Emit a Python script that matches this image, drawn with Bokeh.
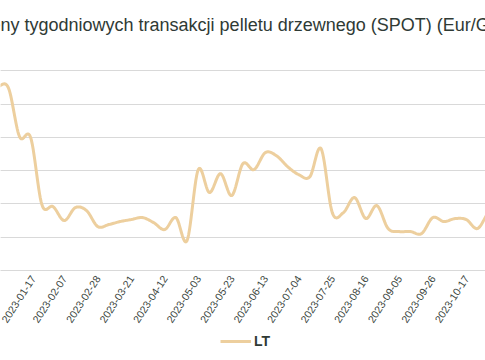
import math
import numpy as np
from bokeh.plotting import figure
from bokeh.layouts import column
from bokeh.models import Range1d, FixedTicker, Grid, Legend, LegendItem, ColumnDataSource
from bokeh.embed import file_html
from bokeh.resources import INLINE

# ---- data ----
title_text = "Ceny tygodniowych transakcji pelletu drzewnego (SPOT) (Eur/GJ)"
series_name = "LT"
dates = [
    "2022-12-20", "2022-12-27", "2023-01-03", "2023-01-10", "2023-01-17",
    "2023-01-24", "2023-01-31", "2023-02-07", "2023-02-14", "2023-02-21",
    "2023-02-28", "2023-03-07", "2023-03-14", "2023-03-21", "2023-03-28",
    "2023-04-04", "2023-04-12", "2023-04-18", "2023-04-25", "2023-05-03",
    "2023-05-09", "2023-05-16", "2023-05-23", "2023-05-30", "2023-06-06",
    "2023-06-13", "2023-06-20", "2023-06-27", "2023-07-04", "2023-07-11",
    "2023-07-18", "2023-07-25", "2023-08-01", "2023-08-08", "2023-08-16",
    "2023-08-22", "2023-08-29", "2023-09-05", "2023-09-12", "2023-09-19",
    "2023-09-26", "2023-10-03", "2023-10-10", "2023-10-17", "2023-10-24",
    "2023-10-31", "2023-11-07",
]
prices_lt = [
    32.6, 32.6, 32.45, 25.1, 24.95,
    14.9, 14.6, 12.5, 14.45, 14.0,
    11.6, 11.9, 12.35, 12.65, 12.95,
    12.2, 11.15, 12.95, 9.5, 20.15,
    16.7, 19.55, 16.25, 21.05, 20.15,
    22.7, 22.25, 20.6, 19.4, 19.1,
    23.3, 13.7, 13.7, 15.95, 12.8,
    14.75, 11.3, 10.85, 10.85, 10.55,
    12.95, 12.35, 12.8, 12.65, 11.3,
    13.7, 14.75,
]
y_grid_values = [5, 10, 15, 20, 25, 30, 35, 40]
labelled_dates = [
    "2023-01-17", "2023-02-07", "2023-02-28", "2023-03-21", "2023-04-12",
    "2023-05-03", "2023-05-23", "2023-06-13", "2023-07-04", "2023-07-25",
    "2023-08-16", "2023-09-05", "2023-09-26", "2023-10-17", "2023-11-07",
]

LINE_COLOR = "#EDCF9E"
TEXT_COLOR = "#2f3a35"

# ---- smoothing (Bezier through every data point, like a smoothed line) ----
def smooth(xs, ys, n=14):
    xs = np.asarray(xs, float)
    ys = np.asarray(ys, float)
    ox, oy = [], []
    m = len(xs)
    for i in range(m - 1):
        p0 = (xs[max(i - 1, 0)], ys[max(i - 1, 0)])
        p1 = (xs[i], ys[i])
        p2 = (xs[i + 1], ys[i + 1])
        p3 = (xs[min(i + 2, m - 1)], ys[min(i + 2, m - 1)])
        c1 = (p1[0] + (p2[0] - p0[0]) / 6, p1[1] + (p2[1] - p0[1]) / 6)
        c2 = (p2[0] - (p3[0] - p1[0]) / 6, p2[1] - (p3[1] - p1[1]) / 6)
        t = np.linspace(0, 1, n, endpoint=(i == m - 2))
        a = (1 - t) ** 3
        b = 3 * (1 - t) ** 2 * t
        c = 3 * (1 - t) * t ** 2
        d = t ** 3
        ox.extend(a * p1[0] + b * c1[0] + c * c2[0] + d * p2[0])
        oy.extend(a * p1[1] + b * c1[1] + c * c2[1] + d * p2[1])
    return ox, oy

idx = list(range(len(dates)))
sx, sy = smooth(idx, prices_lt)
src = ColumnDataSource(data=dict(x=sx, y=sy))

p = figure(
    width=485, height=330,
    output_backend="svg", toolbar_location=None,
    x_range=Range1d(1.296, 44.72), y_range=Range1d(5, 40),
    y_axis_location=None,
    min_border_left=0, min_border_right=0,
    min_border_top=37, min_border_bottom=60,
    title=title_text,
)
p.outline_line_color = None
p.background_fill_color = "white"
p.border_fill_color = "white"

p.title.text_font = "Liberation Sans"
p.title.text_font_size = "18px"
p.title.text_font_style = "normal"
p.title.text_color = TEXT_COLOR
p.title.align = "left"
p.title.offset = -23
p.title.standoff = 5

p.xgrid.visible = False
p.add_layout(Grid(dimension=1, ticker=FixedTicker(ticks=y_grid_values),
                  grid_line_color="#d9d9d9", grid_line_width=1))

tick_idx = [dates.index(d) for d in labelled_dates]
xa = p.xaxis[0]
xa.ticker = FixedTicker(ticks=tick_idx)
xa.major_label_overrides = {i: dates[i] for i in tick_idx}
xa.major_label_orientation = math.radians(57)
xa.major_label_text_font = "Liberation Sans"
xa.major_label_text_font_size = "10.5px"
xa.major_label_text_color = "#3a4540"
xa.major_label_standoff = 6
xa.major_tick_in = 0
xa.major_tick_out = 0
xa.minor_tick_in = 0
xa.minor_tick_out = 0
xa.axis_line_color = "#d9d9d9"

p.line("x", "y", source=src, line_color=LINE_COLOR, line_width=3, line_join="round")

# ---- legend strip below the chart (series drawn out of its view, key only) ----
lg = figure(
    width=485, height=30,
    output_backend="svg", toolbar_location=None,
    x_range=Range1d(-100, -99), y_range=Range1d(-100, -99),
    x_axis_location=None, y_axis_location=None,
    min_border=0,
)
lg.outline_line_color = None
lg.grid.visible = False
lg.background_fill_color = "white"
lg.border_fill_color = "white"
key = lg.line("x", "y", source=src, line_color=LINE_COLOR, line_width=3)
legend = Legend(
    items=[LegendItem(label=series_name, renderers=[key])],
    location=(220, 9), orientation="horizontal",
    border_line_color=None, background_fill_alpha=0,
    label_text_font="Liberation Sans", label_text_font_style="bold",
    label_text_font_size="14px", label_text_color=TEXT_COLOR,
    glyph_width=31, glyph_height=20, label_standoff=3,
    padding=0, margin=0, spacing=0,
)
lg.add_layout(legend, "center")

layout = column(p, lg, spacing=0)

open("out.html", "w").write(file_html(layout, INLINE))
